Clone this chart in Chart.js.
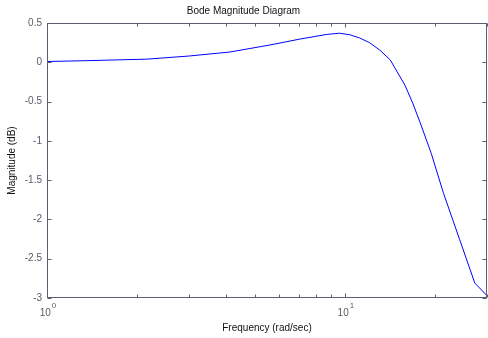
<!DOCTYPE html>
<html>
<head>
<meta charset="utf-8">
<script src="https://cdn.jsdelivr.net/npm/chart.js@4/dist/chart.umd.min.js"></script>
<style>
  body { margin: 0; background: #fff; }
  #wrap { width: 488px; height: 338px; }
</style>
</head>
<body>
<div id="wrap"><canvas id="bode" width="488" height="338"></canvas></div>
<script>
// frequência (rad/sec) e magnitude (dB)
const freq = [1, 1.34, 2.16, 3.0, 4.1, 5.6, 7.06, 8.7, 9.6, 10.4, 11.2, 12.1, 13.1, 14.2, 15.9, 16.9, 17.9, 19.5, 21.4, 24.3, 27.3, 30];
const magnitude = [0.01, 0.02, 0.04, 0.08, 0.13, 0.22, 0.295, 0.355, 0.37, 0.35, 0.31, 0.25, 0.155, 0.03, -0.29, -0.52, -0.77, -1.16, -1.66, -2.26, -2.81, -2.97];

// ticks
const xMajorTicks = [1, 10];
const xTickBase = '10';
const xTickExponents = ['0', '1'];
const xMinorTicks = [2, 3, 4, 5, 6, 7, 8, 9, 20, 30];
const yTicks = [0.5, 0, -0.5, -1, -1.5, -2, -2.5, -3];

const axisColor = '#5c5c74';
const textColor = '#5a5a66';
const fontFamily = '"Liberation Sans", Arial, sans-serif';

// caixa + ticks para dentro, estilo MATLAB, e rótulos 10^n
const frameTicks = {
  id: 'frameTicks',
  afterDatasetsDraw(chart) {
    const { ctx, chartArea, scales } = chart;
    const left = Math.round(chartArea.left) + 0.5;
    const right = Math.round(chartArea.right) - 0.5;
    const top = Math.round(chartArea.top) + 0.5;
    const bottom = Math.round(chartArea.bottom) - 0.5;
    ctx.save();
    ctx.strokeStyle = axisColor;
    ctx.lineWidth = 1;
    ctx.strokeRect(left, top, right - left, bottom - top);

    ctx.beginPath();
    const xTick = (v, len) => {
      const px = Math.round(scales.x.getPixelForValue(v)) + 0.5;
      ctx.moveTo(px, bottom); ctx.lineTo(px, bottom - len);
      ctx.moveTo(px, top); ctx.lineTo(px, top + len);
    };
    xMajorTicks.forEach(v => xTick(v, 4));
    xMinorTicks.forEach(v => xTick(v, 3));
    yTicks.forEach(v => {
      const py = Math.round(scales.y.getPixelForValue(v)) + 0.5;
      ctx.moveTo(left, py); ctx.lineTo(left + 4, py);
      ctx.moveTo(right, py); ctx.lineTo(right - 4, py);
    });
    ctx.stroke();

    // rótulos do eixo x com expoente
    ctx.fillStyle = textColor;
    ctx.textBaseline = 'alphabetic';
    ctx.textAlign = 'left';
    xMajorTicks.forEach((v, i) => {
      const px = scales.x.getPixelForValue(v);
      ctx.font = '10px ' + fontFamily;
      const wBase = ctx.measureText(xTickBase).width;
      ctx.font = '8px ' + fontFamily;
      const wExp = ctx.measureText(xTickExponents[i]).width;
      const x0 = px + 1 - (wBase + wExp + 1) / 2;
      ctx.font = '10px ' + fontFamily;
      ctx.fillText(xTickBase, x0, bottom + 18);
      ctx.font = '8px ' + fontFamily;
      ctx.fillText(xTickExponents[i], x0 + wBase + 1, bottom + 10);
    });
    ctx.restore();
  }
};

new Chart(document.getElementById('bode'), {
  type: 'scatter',
  data: {
    datasets: [{
      data: freq.map((f, i) => ({ x: f, y: magnitude[i] })),
      showLine: true,
      borderColor: '#0000ff',
      borderWidth: 1,
      pointRadius: 0,
      tension: 0
    }]
  },
  options: {
    responsive: false,
    animation: false,
    layout: { padding: { left: 0, right: 1, top: 0, bottom: 0 } },
    plugins: {
      legend: { display: false },
      tooltip: { enabled: false },
      title: {
        display: true,
        text: 'Bode Magnitude Diagram',
        color: '#111',
        font: { family: fontFamily, size: 10, weight: 'normal' },
        padding: { top: 5, bottom: 6 }
      }
    },
    scales: {
      x: {
        type: 'logarithmic',
        min: 1,
        max: 30,
        grid: { display: false, drawTicks: false },
        border: { display: false },
        afterBuildTicks: (scale) => { scale.ticks = xMajorTicks.map(v => ({ value: v, major: true })); },
        afterFit: (scale) => { scale.height = 40; },
        ticks: { display: false },
        title: {
          display: true,
          text: 'Frequency (rad/sec)',
          color: '#111',
          font: { family: fontFamily, size: 10 },
          padding: { top: 0, bottom: 4 }
        }
      },
      y: {
        min: -3,
        max: 0.5,
        grid: { display: false, drawTicks: false },
        border: { display: false },
        afterBuildTicks: (scale) => { scale.ticks = yTicks.map(v => ({ value: v })); },
        afterFit: (scale) => { scale.width = 47; },
        ticks: {
          padding: 5,
          color: textColor,
          font: { family: fontFamily, size: 10 },
          callback: (v) => String(v)
        },
        title: {
          display: true,
          text: 'Magnitude (dB)',
          color: '#111',
          font: { family: fontFamily, size: 10 },
          padding: { top: 6, bottom: 0 }
        }
      }
    }
  },
  plugins: [frameTicks]
});
</script>
</body>
</html>
